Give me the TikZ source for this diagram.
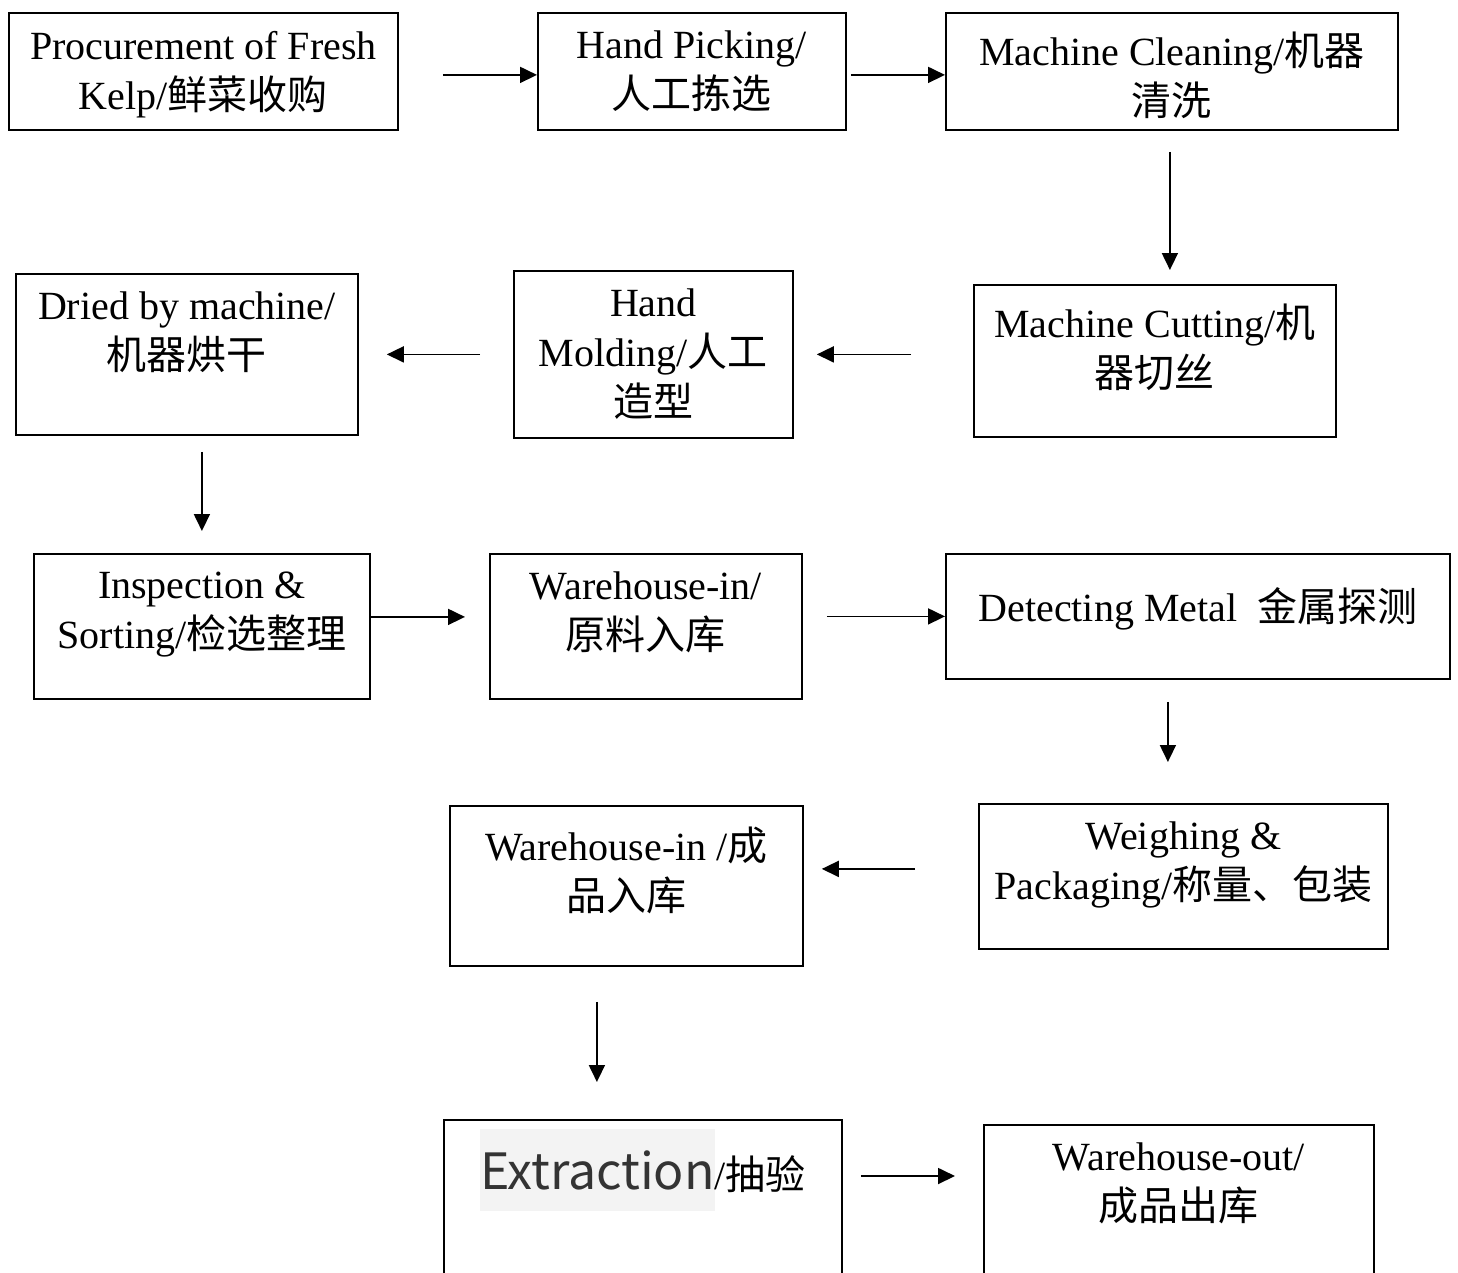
\documentclass[tikz,border=0pt]{standalone}
\usepackage{fontspec}
\setmainfont{Liberation Serif}
\newfontfamily\cjk{Noto Sans CJK SC}
\usepackage{xcolor}
\usetikzlibrary{arrows.meta, positioning}
\definecolor{hlgray}{HTML}{F3F3F3}
\definecolor{extgray}{HTML}{333333}
\newcommand{\zh}[1]{{\cjk #1}}

\begin{document}
\begin{tikzpicture}[x=1pt, y=-1pt,
    stage/.style={draw, line width=1.8pt, inner sep=0pt, anchor=north west},
    txt/.style={inner sep=0pt, align=center, font=\fontsize{40}{50}\selectfont,
                execute at begin node=\strut},
    arr/.style={-{Triangle[length=17pt, width=16pt]}, line width=1.8pt}
]
\path[use as bounding box] (0,0) rectangle (1458,1272);
\clip (0,0) rectangle (1458,1272);

% boxes
\node[stage, minimum width=389pt, minimum height=117pt] (proc)  at (8,12)    {};
\node[stage, minimum width=308pt, minimum height=117pt] (pick)  at (537,12)  {};
\node[stage, minimum width=452pt, minimum height=117pt] (clean) at (945,12)  {};
\node[stage, minimum width=362pt, minimum height=152pt] (cut)   at (973,284) {};
\node[stage, minimum width=279pt, minimum height=167pt] (mold)  at (513,270) {};
\node[stage, minimum width=342pt, minimum height=161pt] (dried) at (15,273)  {};
\node[stage, minimum width=336pt, minimum height=145pt] (insp)  at (33,553)  {};
\node[stage, minimum width=312pt, minimum height=145pt] (wh)    at (489,553) {};
\node[stage, minimum width=504pt, minimum height=125pt] (det)   at (945,553) {};
\node[stage, minimum width=409pt, minimum height=145pt] (weigh) at (978,803) {};
\node[stage, minimum width=353pt, minimum height=160pt] (whf)   at (449,805) {};
\node[stage, minimum width=398pt, minimum height=200pt] (extr)  at (443,1119) {};
\node[stage, minimum width=390pt, minimum height=200pt] (who)   at (983,1124) {};

% texts
\node[txt, below=19pt of proc.north]  (procT)  {Procurement of Fresh\\Kelp/\zh{鲜菜收购}};
\node[txt, below=19pt of pick.north]  (pickT)  {Hand Picking/\\\zh{人工拣选}};
\node[txt, below=20pt of clean.north] (cleanT) {Machine Cleaning/\zh{机器}\\\zh{清洗}};
\node[txt, below=20pt of cut.north]   (cutT)   {Machine Cutting/\zh{机}\\\zh{器切丝}};
\node[txt, below=19pt of mold.north]  (moldT)  {Hand\\Molding/\zh{人工}\\\zh{造型}};
\node[txt, below=19pt of dried.north] (driedT) {Dried by machine/\\\zh{机器烘干}};
\node[txt, below=19pt of insp.north]  (inspT)  {Inspection \&\\Sorting/\zh{检选整理}};
\node[txt, below=19pt of wh.north]    (whT)    {Warehouse-in/\\\zh{原料入库}};
\node[txt, below=33pt of det.north]   (detT)   {Detecting Metal\ \ \zh{金属探测}};
\node[txt, below=19pt of weigh.north] (weighT) {Weighing \&\\Packaging/\zh{称量、包装}};
\node[txt, below=22pt of whf.north]   (whfT)   {Warehouse-in /\zh{成}\\\zh{品入库}};
\node[txt, below=10pt of extr.north]  (extrT)  {{\setlength{\fboxsep}{0pt}\colorbox{hlgray}{\rule[-22pt]{0pt}{82pt}\cjk\fontsize{50}{60}\selectfont\color{extgray}Extraction}}/\zh{抽验}};
\node[txt, below=19pt of who.north]   (whoT)   {Warehouse-out/\\\zh{成品出库}};

% arrows
\draw[arr, shorten <=44pt] ([yshift=-3.5pt]proc.east) -- ([yshift=-3.5pt]pick.west);
\draw[arr, shorten <=4pt] ([yshift=-3.5pt]pick.east) -- ([yshift=-3.5pt]clean.west);
\draw[arr, shorten <=21pt, shorten >=14pt] ([xshift=-2pt]clean.south) -- ([xshift=-2pt]clean.south |- cut.north);
\draw[arr, shorten <=62pt, shorten >=23pt] (cut.west |- mold.east) -- (mold.east);
\draw[arr, shorten <=33pt, shorten >=28pt] (mold.west) -- (dried.east |- mold.west);
\draw[arr, shorten <=16pt, shorten >=22pt] (insp.north |- dried.south) -- (insp.north);
\draw[arr, shorten >=24pt] ([yshift=9.5pt]insp.east) -- ([yshift=9.5pt]insp.east -| wh.west);
\draw[arr, shorten <=24pt] (wh.east |- det.west) -- (det.west);
\draw[arr, shorten <=22pt, shorten >=41pt] ([xshift=-30pt]det.south) -- ([xshift=-30pt]det.south |- weigh.north);
\draw[arr, shorten <=63pt, shorten >=18pt] ([yshift=7.5pt]weigh.west) -- ([yshift=7.5pt]weigh.west -| whf.east);
\draw[arr, shorten <=35pt, shorten >=37pt] ([xshift=-29.5pt]whf.south) -- ([xshift=-29.5pt]whf.south |- extr.north);
\draw[arr, shorten <=18pt, shorten >=28pt] ([yshift=-57pt]extr.north east) -- ([yshift=-57pt]extr.north east -| who.west);
\end{tikzpicture}
\end{document}
